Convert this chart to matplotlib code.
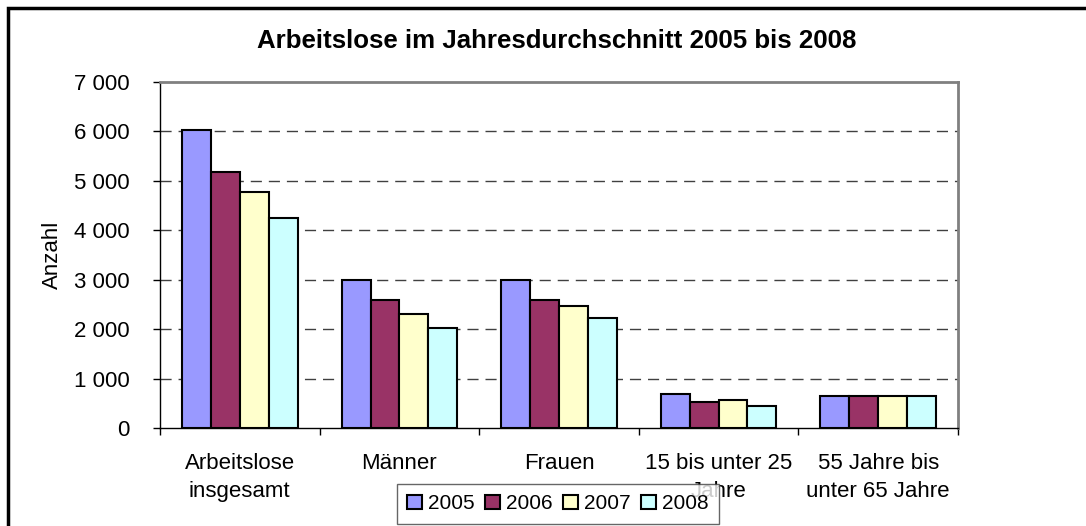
import matplotlib
matplotlib.use("Agg")
import matplotlib.pyplot as plt
import numpy as np
from matplotlib.patches import Rectangle, Patch

categories = ["Arbeitslose\ninsgesamt", "Männer", "Frauen", "15 bis unter 25\nJahre", "55 Jahre bis\nunter 65 Jahre"]
years = ["2005", "2006", "2007", "2008"]
v2005 = [6030, 3000, 3000, 695, 650]
v2006 = [5180, 2590, 2590, 525, 650]
v2007 = [4780, 2310, 2465, 565, 650]
v2008 = [4245, 2025, 2220, 445, 650]
yticks = [0, 1000, 2000, 3000, 4000, 5000, 6000, 7000]
ytick_labels = ["0", "1 000", "2 000", "3 000", "4 000", "5 000", "6 000", "7 000"]
colors = ["#9999FF", "#993366", "#FFFFCC", "#CCFFFF"]

plt.rcParams['font.family'] = ['Liberation Sans', 'DejaVu Sans']

W, H = 1086, 526
fig = plt.figure(figsize=(W / 100, H / 100), dpi=100)
fig.patch.set_facecolor("white")

# outer frame
fig.patches.append(Rectangle((8 / W, -0.1), 1.2, (H - 8) / H + 0.1, transform=fig.transFigure,
                             fill=False, edgecolor="black", linewidth=2.5, clip_on=False))

left, right, top, bottom = 160, 958, 82, 428
ax = fig.add_axes([left / W, (H - bottom) / H, (right - left) / W, (bottom - top) / H])

series = [v2005, v2006, v2007, v2008]
x = np.arange(len(categories))
bw = 0.181
for i, (vals, c) in enumerate(zip(series, colors)):
    ax.bar(x + (i - 1.5) * bw, vals, width=bw, color=c, edgecolor="black", linewidth=1.5,
           zorder=3, label=years[i])

ax.set_xlim(-0.5, len(categories) - 0.5)
ax.set_ylim(0, 7000)
ax.set_yticks(yticks)
ax.set_yticklabels(ytick_labels, fontsize=16)
ax.set_xticks(np.arange(len(categories) + 1) - 0.5, minor=False)
ax.set_xticklabels([])
ax.set_xticks(x, minor=True)
ax.set_xticklabels(categories, minor=True, fontsize=16, linespacing=1.45)
ax.tick_params(axis="x", which="minor", length=0, pad=18)
ax.tick_params(axis="x", which="major", direction="out", length=5, width=1)
ax.tick_params(axis="y", direction="out", length=5, width=1, pad=17)

for y in yticks[1:-1]:
    ax.axhline(y, color="#404040", linewidth=1, linestyle=(0, (8, 5)), zorder=1)

for s in ["top", "right"]:
    ax.spines[s].set_color("#808080")
    ax.spines[s].set_linewidth(2)
for s in ["left", "bottom"]:
    ax.spines[s].set_color("black")
    ax.spines[s].set_linewidth(1)

ax.set_ylabel("Anzahl", fontsize=16, labelpad=8)

fig.text(557 / W, 1 - 41 / H, "Arbeitslose im Jahresdurchschnitt 2005 bis 2008",
         ha="center", va="center", fontsize=18.6, fontweight="bold")

handles = [Patch(facecolor=c, edgecolor="black", linewidth=1.5) for c in colors]
leg = fig.legend(handles, years, loc="upper left", bbox_to_anchor=(397 / W, 1 - 484 / H),
                 ncol=4, fontsize=15, frameon=True, fancybox=False, handlelength=0.7,
                 handleheight=0.7, handletextpad=0.3, columnspacing=0.5, borderpad=0.5,
                 borderaxespad=0)
leg.get_frame().set_edgecolor("#404040")
leg.get_frame().set_linewidth(1)
leg.set_zorder(10)

fig.savefig("out.png", dpi=100)
